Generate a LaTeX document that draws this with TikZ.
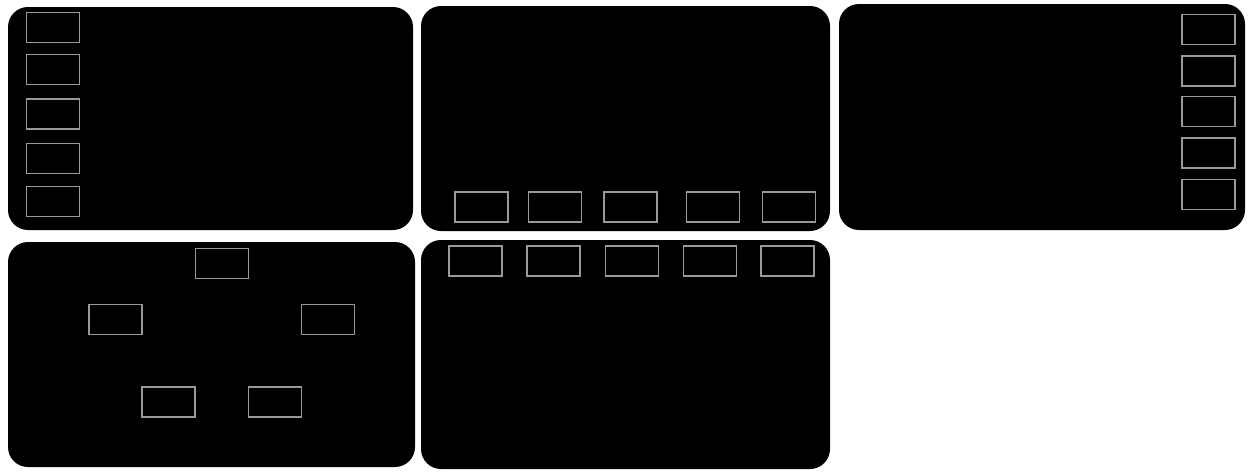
\documentclass[tikz,border=0pt]{standalone}
\usepackage{tikz}

\begin{document}
\begin{tikzpicture}[x=1pt, y=-1pt,
  panel/.style = {fill=black, rounded corners=20pt},
  slot/.style = {draw=gray!80, line width=1.5pt, fill=black, minimum width=53pt, minimum height=30pt, inner sep=0pt}]
\useasboundingbox (0,0) rectangle (1254,474);
% panels
\fill[panel] (8,7) rectangle (413,230);
\fill[panel] (421,6) rectangle (830,231);
\fill[panel] (839,4) rectangle (1245,230);
\fill[panel] (8,242) rectangle (415,467);
\fill[panel] (421,240) rectangle (830,469);
% left column
\node[slot] (a1) at (53,27.5) {};
\node[slot] (a2) at (53,69.5) {};
\node[slot] (a3) at (53,114) {};
\node[slot] (a4) at (53,158.5) {};
\node[slot] (a5) at (53,201.5) {};
% bottom row
\node[slot] (b1) at (481.5,207) {};
\node[slot] (b2) at (555,207) {};
\node[slot] (b3) at (630.5,207) {};
\node[slot] (b4) at (713,207) {};
\node[slot] (b5) at (789,207) {};
% right column
\node[slot] (c1) at (1208.5,29.5) {};
\node[slot] (c2) at (1208.5,71) {};
\node[slot] (c3) at (1208.5,111.5) {};
\node[slot] (c4) at (1208.5,153) {};
\node[slot] (c5) at (1208.5,194.5) {};
% pentagon
\node[slot] (d1) at (222,263.5) {};
\node[slot] (d2) at (115.5,319.5) {};
\node[slot] (d3) at (328,319.5) {};
\node[slot] (d4) at (168.5,402) {};
\node[slot] (d5) at (275,402) {};
% top row
\node[slot] (e1) at (475.5,261) {};
\node[slot] (e2) at (553.5,261) {};
\node[slot] (e3) at (632,261) {};
\node[slot] (e4) at (710,261) {};
\node[slot] (e5) at (787.5,261) {};
\end{tikzpicture}
\end{document}
